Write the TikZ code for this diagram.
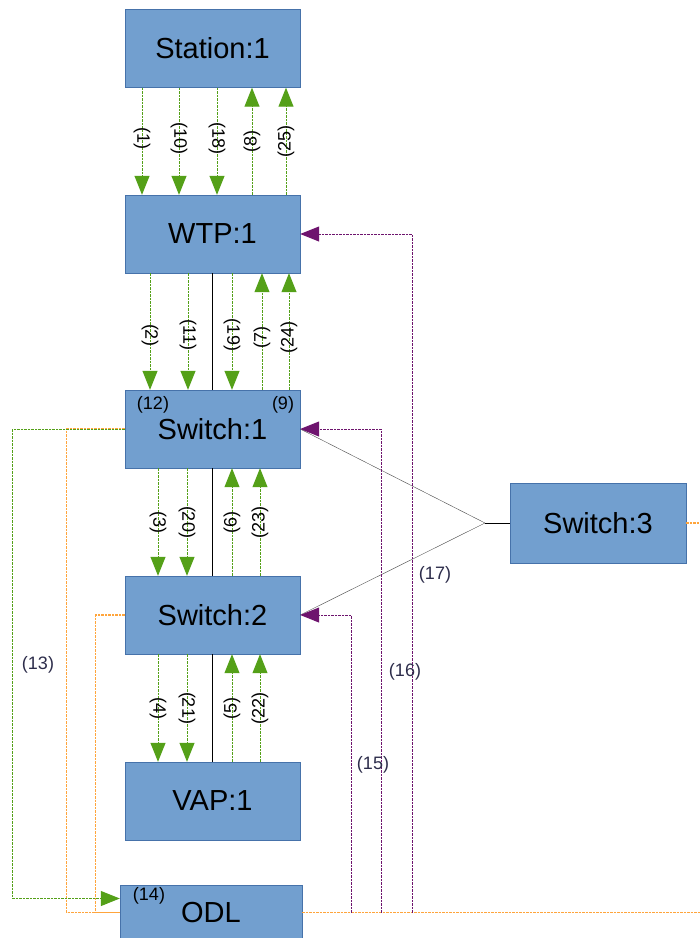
\documentclass[tikz,border=0pt]{standalone}
\usepackage{fontspec}
\setmainfont{Liberation Sans}
\usetikzlibrary{arrows.meta}
\definecolor{boxblue}{RGB}{114,159,207}
\definecolor{boxline}{RGB}{70,114,170}
\definecolor{msggreen}{RGB}{84,160,24}
\definecolor{ctrlpurple}{RGB}{110,20,110}
\definecolor{dataorange}{RGB}{255,165,60}
\definecolor{lblnavy}{RGB}{45,45,75}

\tikzset{
  entity/.style={draw=boxline, fill=boxblue, minimum width=175pt, minimum height=78pt,
    inner sep=0pt, font=\fontsize{29}{31}\selectfont},
  msg/.style={draw=msggreen, line width=1pt, dash pattern=on 2.5pt off 1pt,
    -{Triangle[length=19pt,width=15pt]}},
  ctrl/.style={draw=ctrlpurple, line width=1pt, dash pattern=on 2.5pt off 1pt,
    -{Triangle[length=19pt,width=15pt]}},
  data/.style={draw=dataorange, line width=1.1pt, dash pattern=on 2.5pt off 1pt},
  lbl/.style={font=\fontsize{18}{20}\selectfont, inner sep=1pt},
  sidelbl/.style={font=\fontsize{18}{20}\selectfont, text=lblnavy, inner sep=1pt}
}

\begin{document}
\begin{tikzpicture}[x=1pt, y=-1pt]
\clip (0,0) rectangle (700,938);
\fill[white] (0,0) rectangle (700,938);

% entities
\node[entity] (station) at (212.5,48.5) {Station:1};
\node[entity] (wtp) at (212.5,234) {WTP:1};
\node[entity] (sw1) at (212.5,429) {Switch:1};
\node[entity] (sw2) at (212.5,615) {Switch:2};
\node[entity] (vap) at (212.5,801) {VAP:1};
\node[entity, minimum width=182pt, minimum height=55pt] (odl) at (211,912.5) {ODL};
\node[entity, minimum width=176pt, minimum height=80pt] (sw3) at (598,523) {Switch:3};

\node[lbl] at (153,405) {(12)};
\node[lbl] at (283,405) {(9)};
\node[lbl] at (149,896) {(14)};

% links
\draw (wtp.south) -- (sw1.north);
\draw (sw1.south) -- (sw2.north);
\draw (sw2.south) -- (vap.north);

% station <-> wtp
\foreach \x/\n in {142/1, 179/10, 217/18}
{
  \draw[msg] (station.south -| \x,0) -- (wtp.north -| \x,0) node[lbl, pos=0.47, rotate=-90] {(\n)};
}
\foreach \x/\n in {252/8, 286/25}
{
  \draw[msg] (wtp.north -| \x,0) -- (station.south -| \x,0) node[lbl, pos=0.5, rotate=90] {(\n)};
}

% wtp <-> switch 1
\foreach \x/\n in {150/2, 188/11, 232/19}
{
  \draw[msg] (wtp.south -| \x,0) -- (sw1.north -| \x,0) node[lbl, pos=0.53, rotate=-90] {(\n)};
}
\foreach \x/\n in {262/7, 289/24}
{
  \draw[msg] (sw1.north -| \x,0) -- (wtp.south -| \x,0) node[lbl, pos=0.45, rotate=90] {(\n)};
}

% switch 1 <-> switch 2
\foreach \x/\n in {158/3, 187/20}
{
  \draw[msg] (sw1.south -| \x,0) -- (sw2.north -| \x,0) node[lbl, pos=0.5, rotate=-90] {(\n)};
}
\foreach \x/\n in {232/6, 260/23}
{
  \draw[msg] (sw2.north -| \x,0) -- (sw1.south -| \x,0) node[lbl, pos=0.5, rotate=90] {(\n)};
}

% switch 2 <-> vap
\foreach \x/\n in {158/4, 187/21}
{
  \draw[msg] (sw2.south -| \x,0) -- (vap.north -| \x,0) node[lbl, pos=0.5, rotate=-90] {(\n)};
}
\foreach \x/\n in {232/5, 260/22}
{
  \draw[msg] (vap.north -| \x,0) -- (sw2.south -| \x,0) node[lbl, pos=0.5, rotate=90] {(\n)};
}

% switch 3 fan-out
\coordinate (fork) at (485,523);
\draw (sw3.west) -- (fork);
\draw[gray!60!black] (fork) -- (sw1.east);
\draw[gray!60!black] (fork) -- (sw2.east);
\node[sidelbl] at (435,575) {(17)};

% data path to odl
\draw[data] (sw1.west) -- ++(-58,0) |- (odl.west);
\draw[data] (sw2.west) -- ++(-29,0) |- (odl.west);
\coordinate (odlright) at (700,912.5);
\draw[data] (odl.east) -- (odlright);
\coordinate (sw3right) at (700,523);
\draw[data] (sw3.east) -- (sw3right);

\draw[msg] (sw1.west) -- ++(-112,0) |- ([yshift=14pt]odl.west);
\node[sidelbl] at (38,665) {(13)};

% control back from odl
\coordinate (c15) at (351,912.5);
\coordinate (c16) at (381,912.5);
\coordinate (c17) at (412,912.5);
\draw[ctrl] (c15) |- (sw2.east);
\draw[ctrl] (c16) |- (sw1.east);
\draw[ctrl] (c17) |- (wtp.east);
\node[sidelbl] at (373,765) {(15)};
\node[sidelbl] at (405,672) {(16)};
\end{tikzpicture}
\end{document}
